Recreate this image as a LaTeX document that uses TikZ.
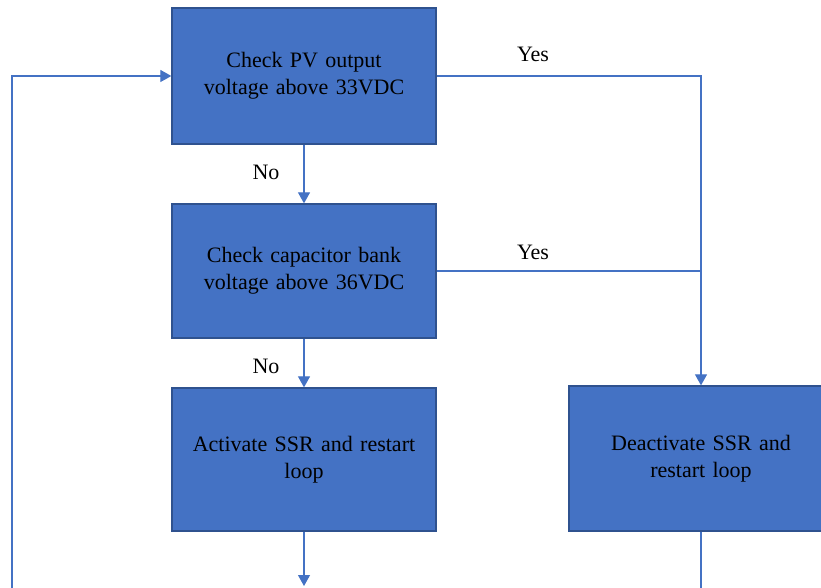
\documentclass[tikz,border=0pt]{standalone}
\usepackage{fontspec}
\setmainfont{Liberation Serif}
\usetikzlibrary{arrows.meta}
\definecolor{boxfill}{HTML}{4472C4}
\definecolor{boxline}{HTML}{2F528F}
\definecolor{conn}{HTML}{4472C4}
\begin{document}
\begin{tikzpicture}[x=1pt,y=-1pt,
  stepbox/.style={draw=boxline,line width=1.3pt,fill=boxfill,minimum width=264pt,minimum height=136pt,
    text width=250pt,align=center,inner sep=0pt,font=\fontsize{22}{27}\selectfont,text=black},
  lbl/.style={font=\fontsize{22}{27}\selectfont,text=black,inner sep=0pt},
  conline/.style={draw=conn,line width=1.1pt},
  arr/.style={conline,-{Triangle[width=12pt,length=11pt]}}]
\useasboundingbox (0,0) rectangle (821,588);
\clip (0,0) rectangle (821,588);
\node[stepbox] (b1) at (304,76) {Check PV output\\voltage above 33VDC};
\node[stepbox,minimum height=134pt] (b2) at (304,271) {Check capacitor bank\\voltage above 36VDC};
\node[stepbox,minimum height=143pt] (b3) at (304,459.5) {Activate SSR and restart\\loop};
\node[stepbox,minimum height=145pt] (b4) at (701,458.5) {Deactivate SSR and\\restart loop};
\coordinate (c1) at (701,76);
\coordinate (c2) at (701,271);
\coordinate (l1) at (12,590);
\coordinate (l2) at (12,76);
\coordinate (e3) at (304,586);
\coordinate (e4) at (701,590);
\draw[arr] (b1) -- (b2);
\draw[arr] (b2) -- (b3);
\draw[arr] (b1.east) -- (c1) -- (b4.north);
\draw[conline] (b2.east) -- (c2);
\draw[arr] (l1) -- (l2) -- (b1.west);
\draw[arr] (b3) -- (e3);
\draw[conline] (b4) -- (e4);
\node[lbl] (n1) at (266,172) {No};
\node[lbl] (n2) at (266,366) {No};
\node[lbl] (y1) at (533,54) {Yes};
\node[lbl] (y2) at (533,252) {Yes};
\end{tikzpicture}
\end{document}
